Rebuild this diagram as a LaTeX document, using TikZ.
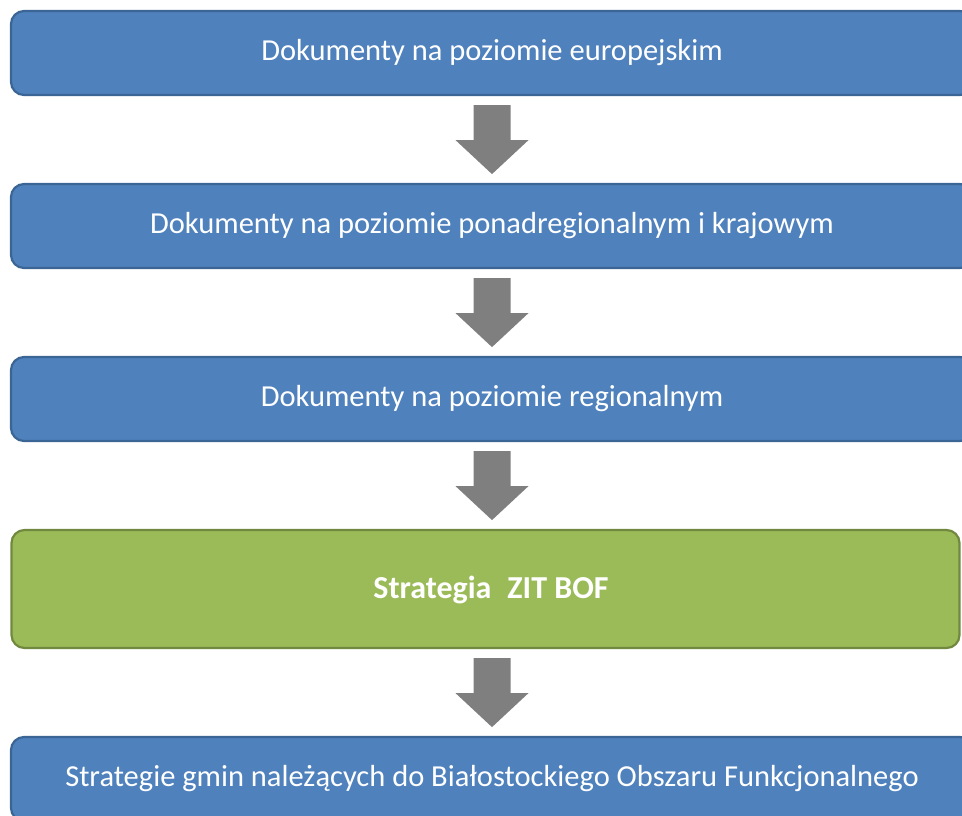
\documentclass[tikz,border=0pt]{standalone}
\usepackage{fontspec}
\setmainfont{Carlito}
\usetikzlibrary{calc}
\definecolor{boxblue}{HTML}{4F81BD}
\definecolor{edgeblue}{HTML}{3A6595}
\definecolor{boxgreen}{HTML}{9BBB59}
\definecolor{edgegreen}{HTML}{71893F}
\definecolor{arrowgray}{HTML}{7F7F7F}
\tikzset{
  bluebox/.style={draw=edgeblue, fill=boxblue, line width=2.2pt, rounded corners=13pt,
    minimum width=962pt, minimum height=84pt, text=white, inner sep=0pt,
    font=\fontsize{30.5}{34}\selectfont},
  greenbox/.style={draw=edgegreen, fill=boxgreen, line width=2.2pt, rounded corners=13pt,
    minimum width=948pt, minimum height=118pt, inner sep=0pt},
  greentext/.style={text=white, inner sep=0pt, font=\fontsize{32}{36}\selectfont\bfseries},
  flowarrow/.style={fill=arrowgray, draw=none}
}
\newcommand{\downarrowshape}[1]{% #1 top coordinate
  \fill[flowarrow] ($#1+(-18.5,0)$) -- ($#1+(18.5,0)$) -- ($#1+(18.5,35)$) -- ($#1+(36.5,35)$)
    -- ($#1+(0,69)$) -- ($#1+(-36.5,35)$) -- ($#1+(-18.5,35)$) -- cycle;}
\begin{document}
\begin{tikzpicture}[x=1pt,y=-1pt]
\useasboundingbox (0,0) rectangle (962,815);
\clip (0,0) rectangle (962,815);
\node[bluebox] (b1) at (492,53) {Dokumenty na poziomie europejskim};
\node[bluebox] (b2) at (492,226) {Dokumenty na poziomie ponadregionalnym i krajowym};
\node[bluebox] (b3) at (492,399) {Dokumenty na poziomie regionalnym};
\node[greenbox] (b4) at (485.5,589) {};
\node[greentext] (t4) at (491,590) {Strategia\hspace{0.5em}ZIT BOF};
\node[bluebox] (b5) at (492,779) {Strategie gmin należących do Białostockiego Obszaru Funkcjonalnego};
\coordinate (a1) at ($(b1.south)+(0,9)$);
\coordinate (a2) at ($(b2.south)+(0,9)$);
\coordinate (a3) at ($(b3.south)+(0,9)$);
\coordinate (a4) at ($(b1.south |- b4.south)+(0,9)$);
\downarrowshape{(a1)}
\downarrowshape{(a2)}
\downarrowshape{(a3)}
\downarrowshape{(a4)}
\end{tikzpicture}
\end{document}
